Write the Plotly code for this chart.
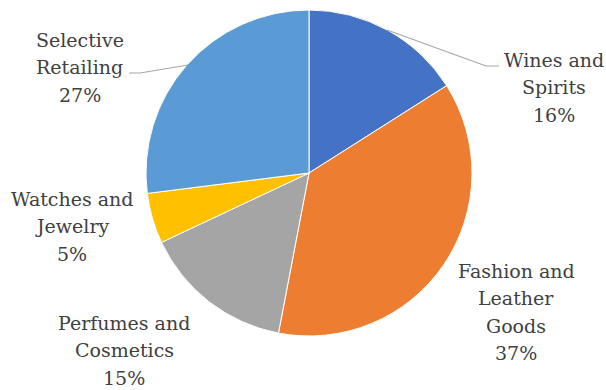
import plotly.graph_objects as go

categories = ["Wines and Spirits", "Fashion and Leather Goods", "Perfumes and Cosmetics",
              "Watches and Jewelry", "Selective Retailing"]
label_lines = [["Wines and", "Spirits"], ["Fashion and", "Leather", "Goods"],
               ["Perfumes and", "Cosmetics"], ["Watches and", "Jewelry"],
               ["Selective", "Retailing"]]
shares = [16, 37, 15, 5, 27]
colors = ["#4472C4", "#ED7D31", "#A5A5A5", "#FFC000", "#5B9BD5"]

W, H = 606, 390
# label anchor: centre x and first-line centre y (pixels from top-left)
label_pos = [(554, 60), (516, 271), (124, 323), (72, 199), (80, 40)]
LINE_STEP = 27.3

fig = go.Figure(go.Pie(
    labels=categories, values=shares, sort=False, direction="clockwise", rotation=0,
    marker=dict(colors=colors, line=dict(color="white", width=1)),
    textinfo="none", hoverinfo="label+percent", showlegend=False,
    domain=dict(x=[146/W, 472/W], y=[1-336/H, 1-10/H]),
))

font = dict(family="DejaVu Serif", size=19, color="#404040")
for lines, v, (px, py) in zip(label_lines, shares, label_pos):
    for i, txt in enumerate(lines + [f"{v}%"]):
        fig.add_annotation(x=px/W, y=1-(py + i*LINE_STEP)/H, xref="paper", yref="paper",
                           text=txt, showarrow=False, font=font,
                           xanchor="center", yanchor="middle")

# leader lines
line_style = dict(color="#A6A6A6", width=1.2)
fig.add_shape(type="path", xref="paper", yref="paper",
              path=f"M {188/W},{1-65/H} L {140/W},{1-73/H} L {129/W},{1-73/H}", line=line_style)
fig.add_shape(type="path", xref="paper", yref="paper",
              path=f"M {387/W},{1-30/H} L {486/W},{1-66/H} L {499/W},{1-66/H}", line=line_style)

fig.update_layout(width=W, height=H, margin=dict(l=0, r=0, t=0, b=0),
                  paper_bgcolor="white", plot_bgcolor="white",
                  font=dict(family="DejaVu Serif"))
fig.write_html("out.html", config={"displayModeBar": False},
               post_script="document.body.style.margin='0';")
